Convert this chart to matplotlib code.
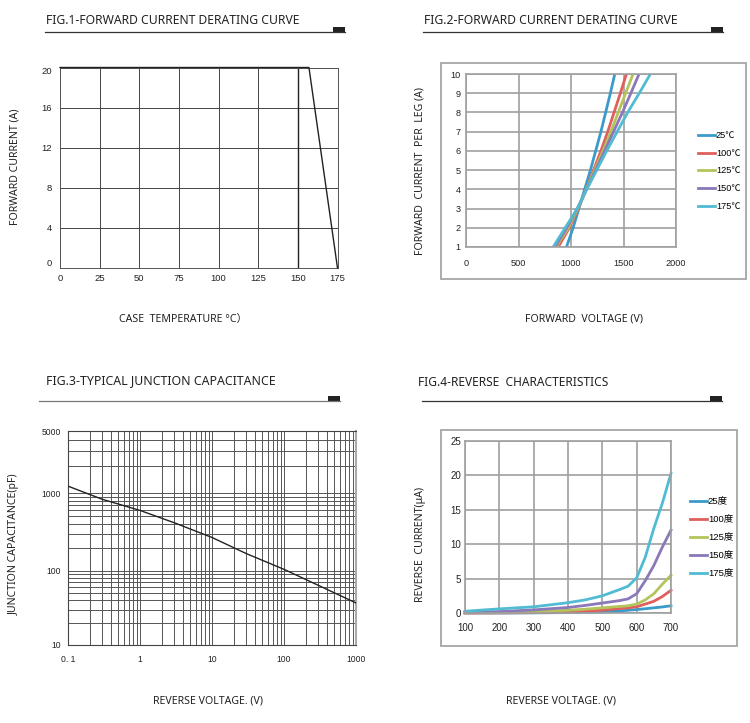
"""Four datasheet curves for a rectifier diode, laid out on a 2x2 page."""

import matplotlib

matplotlib.use("Agg")
import matplotlib.pyplot as plt
import numpy as np
from matplotlib.lines import Line2D
from matplotlib.patches import Rectangle

plt.rcParams["font.family"] = ["Liberation Sans", "Noto Sans CJK SC", "DejaVu Sans"]

WIDTH, HEIGHT = 750, 723
TITLE_FONT = ["Noto Sans", "DejaVu Sans"]
COLORS = ["#3A9BCB", "#DF5F5C", "#B4C45A", "#8A78B8", "#50BBD2"]

# Fig.1
derate_temp = [0, 157, 175]
derate_current = [20, 20, 0]
fig1_xticks = [0, 25, 50, 75, 100, 125, 150, 175]
fig1_yticks = [0, 4, 8, 12, 16, 20]

# Fig.2
forward_current = [1, 2, 3, 4, 5, 6, 7, 8, 9, 10]
forward_v_25 = [957, 1020, 1075, 1130, 1185, 1235, 1285, 1330, 1375, 1417]
forward_v_100 = [878, 985, 1070, 1145, 1215, 1285, 1350, 1410, 1470, 1528]
forward_v_125 = [856, 975, 1065, 1145, 1225, 1305, 1380, 1450, 1520, 1591]
forward_v_150 = [846, 960, 1060, 1148, 1235, 1320, 1405, 1490, 1570, 1648]
forward_v_175 = [830, 945, 1060, 1150, 1245, 1340, 1440, 1540, 1650, 1756]
fig2_labels = ["25℃", "100℃", "125℃", "150℃", "175℃"]
fig2_xticks = [0, 500, 1000, 1500, 2000]

# Fig.3
cap_voltage = [0.1, 0.3, 1, 3, 10, 30, 100, 300, 1000]
cap_pf = [1195, 830, 598, 415, 269, 167, 105, 64, 37]
fig3_xticks = [0.1, 1, 10, 100, 1000]
fig3_xticklabels = ["0. 1", "1", "10", "100", "1000"]
fig3_yticks = [10, 100, 1000, 5000]
# the printed log paper is not even, these are its decades as drawn
fig3_y_log = [1, 2, 3, np.log10(5000)]
fig3_y_px = [0, 74, 152, 214]

# Fig.4
reverse_voltage = [100, 200, 300, 400, 450, 500, 550, 575, 600, 625, 650, 675, 700]
reverse_25 = [0, 0, 0.02, 0.06, 0.1, 0.15, 0.3, 0.4, 0.5, 0.62, 0.75, 0.88, 1.05]
reverse_100 = [0, 0.02, 0.05, 0.15, 0.25, 0.4, 0.65, 0.75, 0.9, 1.3, 1.7, 2.4, 3.3]
reverse_125 = [0.05, 0.1, 0.2, 0.4, 0.55, 0.75, 0.95, 1.05, 1.3, 1.9, 2.8, 4.2, 5.5]
reverse_150 = [0.1, 0.2, 0.45, 0.8, 1.1, 1.45, 1.8, 2.05, 2.8, 4.7, 6.9, 9.6, 12.05]
reverse_175 = [0.25, 0.6, 0.9, 1.5, 1.9, 2.5, 3.4, 3.9, 5.1, 8.1, 12.3, 16.0, 20.3]
fig4_labels = ["25度", "100度", "125度", "150度", "175度"]
fig4_xticks = [100, 200, 300, 400, 500, 600, 700]
fig4_yticks = [0, 5, 10, 15, 20, 25]


def fx(x):
    return x / WIDTH


def fy(y):
    return 1 - y / HEIGHT


def axes_px(fig, left, top, right, bottom):
    return fig.add_axes([fx(left), fy(bottom), (right - left) / WIDTH, (bottom - top) / HEIGHT])


def heading(fig, text, size, x_text, y_text, x0, x1, y_rule, color="#333333"):
    fig.text(fx(x_text), fy(y_text), text, fontsize=size, family=TITLE_FONT, color="#222222",
             ha="left", va="center")
    fig.add_artist(Line2D([fx(x0), fx(x1)], [fy(y_rule), fy(y_rule)], color=color, lw=0.9))
    fig.add_artist(Rectangle((fx(x1 - 12), fy(y_rule)), 12 / WIDTH, 5 / HEIGHT,
                             facecolor="#222222", edgecolor="none"))


def axis_titles(fig, xlabel, x, y, ylabel, xl, yl):
    fig.text(fx(x), fy(y), xlabel, fontsize=7.6, family=TITLE_FONT + ["Noto Sans CJK SC"],
             color="#222222", ha="center", va="center")
    fig.text(fx(xl), fy(yl), ylabel, fontsize=7.6, family=TITLE_FONT, color="#222222",
             rotation=90, ha="center", va="center")


def outer_frame(fig, left, top, right, bottom):
    # below the axes, figure patches otherwise paint over them
    fig.add_artist(Rectangle((fx(left), fy(bottom)), (right - left) / WIDTH, (bottom - top) / HEIGHT,
                             facecolor="white", edgecolor="#A6A6A6", lw=1.3, zorder=-1))


def style_gray(ax):
    ax.grid(True, color="#A0A0A0", lw=1.2)
    ax.set_axisbelow(True)
    ax.tick_params(length=0, labelsize=6.6, colors="#222222")
    for spine in ax.spines.values():
        spine.set_color("#A0A0A0")
        spine.set_linewidth(1.2)


def draw_fig1(fig):
    ax = axes_px(fig, 60, 67.5, 337.5, 268)
    ax.plot(derate_temp, derate_current, color="#222222", lw=1.0, clip_on=False, zorder=4)
    ax.set_xlim(0, 175)
    ax.set_ylim(0, 20)
    ax.set_xticks(fig1_xticks)
    ax.set_yticks(fig1_yticks)
    ax.grid(True, color="#444444", lw=0.7)
    ax.set_axisbelow(True)
    ax.axvline(150, color="#222222", lw=1.0)
    ax.tick_params(length=0, labelsize=6.8, pad=6, colors="#222222")
    ax.tick_params(axis="x", pad=4)
    ax.get_yticklabels()[0].set_va("bottom")
    ax.get_yticklabels()[-1].set_va("top")
    for spine in ax.spines.values():
        spine.set_color("#555555")
        spine.set_linewidth(0.7)
    heading(fig, "FIG.1-FORWARD CURRENT DERATING CURVE", 8.75, 46, 20, 45, 345, 32)
    axis_titles(fig, "CASE  TEMPERATURE °C）", 183, 319, "FORWARD CURRENT (A)", 15, 167)


def draw_fig2(fig):
    outer_frame(fig, 441, 63, 746, 279)
    ax = axes_px(fig, 466, 74, 676, 247)
    ax.patch.set_alpha(0)
    series = [forward_v_25, forward_v_100, forward_v_125, forward_v_150, forward_v_175]
    for values, label, color in zip(series, fig2_labels, COLORS):
        ax.plot(values, forward_current, color=color, lw=2.0, label=label)
    ax.set_xlim(0, 2000)
    ax.set_ylim(1, 10)
    ax.set_xticks(fig2_xticks)
    ax.set_yticks(forward_current)
    style_gray(ax)
    ax.tick_params(axis="x", pad=9)
    ax.tick_params(axis="y", pad=4)
    ax.legend(loc="center left", bbox_to_anchor=(fx(698), fy(171)), bbox_transform=fig.transFigure,
              frameon=False, fontsize=6.6, handlelength=1.85, handletextpad=0.1, labelspacing=0.95,
              borderpad=0, borderaxespad=0)
    heading(fig, "FIG.2-FORWARD CURRENT DERATING CURVE", 8.75, 424, 20, 423, 723, 32)
    axis_titles(fig, "FORWARD  VOLTAGE (V)", 584, 319, "FORWARD  CURRENT  PER  LEG (A)", 420, 171)


def draw_fig3(fig):
    ax = axes_px(fig, 68, 431, 356, 645)
    ax.set_xscale("log")
    ax.set_yscale(
        "function",
        functions=(
            lambda v: np.interp(np.log10(np.clip(v, 1e-3, None)), fig3_y_log, fig3_y_px),
            lambda p: 10 ** np.interp(p, fig3_y_px, fig3_y_log),
        ),
    )
    ax.plot(cap_voltage, cap_pf, color="#222222", lw=1.0, zorder=4)
    ax.set_xlim(0.1, 1000)
    ax.set_ylim(10, 5000)
    ax.set_xticks(fig3_xticks, fig3_xticklabels)
    ax.set_yticks(fig3_yticks, [str(v) for v in fig3_yticks])
    decades = [0.1, 1, 10, 100]
    ax.set_xticks([d * m for d in decades for m in range(2, 10)], minor=True)
    ax.set_xticklabels([], minor=True)
    ax.set_yticks([d * m for d in [10, 100] for m in range(2, 10)] + [2000, 3000, 4000], minor=True)
    ax.set_yticklabels([], minor=True)
    ax.grid(True, which="both", color="#555555", lw=0.7)
    ax.set_axisbelow(True)
    ax.tick_params(which="both", length=0)
    ax.tick_params(labelsize=6.2, colors="#222222")
    ax.tick_params(axis="x", pad=7)
    ax.tick_params(axis="y", pad=5)
    for spine in ax.spines.values():
        spine.set_color("#444444")
        spine.set_linewidth(0.8)
    ax.spines["right"].set_color("#AAAAAA")
    ax.spines["right"].set_linewidth(1.5)
    heading(fig, "FIG.3-TYPICAL JUNCTION CAPACITANCE", 8.9, 46, 381, 39, 340, 401, color="#777777")
    axis_titles(fig, "REVERSE VOLTAGE. (V)", 208, 701, "JUNCTION CAPACITANCE(pF)", 14, 544)


def draw_fig4(fig):
    outer_frame(fig, 441, 430, 737, 646)
    ax = axes_px(fig, 465, 441, 671, 613)
    ax.patch.set_alpha(0)
    series = [reverse_25, reverse_100, reverse_125, reverse_150, reverse_175]
    for values, label, color in zip(series, fig4_labels, COLORS):
        ax.plot(reverse_voltage, values, color=color, lw=2.0, label=label, clip_on=False)
    ax.set_xlim(100, 700)
    ax.set_ylim(0, 25)
    ax.set_xticks(fig4_xticks)
    ax.set_yticks(fig4_yticks)
    style_gray(ax)
    ax.tick_params(axis="both", labelsize=7)
    ax.tick_params(axis="x", pad=7)
    ax.tick_params(axis="y", pad=3)
    ax.legend(loc="center left", bbox_to_anchor=(fx(690), fy(538)), bbox_transform=fig.transFigure,
              frameon=False, fontsize=6.8, handlelength=1.8, handletextpad=0.1, labelspacing=0.95,
              borderpad=0, borderaxespad=0)
    heading(fig, "FIG.4-REVERSE  CHARACTERISTICS", 8.6, 418, 382, 422, 722, 401)
    axis_titles(fig, "REVERSE VOLTAGE. (V)", 561, 701, "REVERSE  CURRENT(μA)", 421, 544)


def main():
    fig = plt.figure(figsize=(WIDTH / 100, HEIGHT / 100), dpi=100, facecolor="white")
    draw_fig1(fig)
    draw_fig2(fig)
    draw_fig3(fig)
    draw_fig4(fig)
    fig.savefig("out.png", dpi=100)


if __name__ == "__main__":
    main()
